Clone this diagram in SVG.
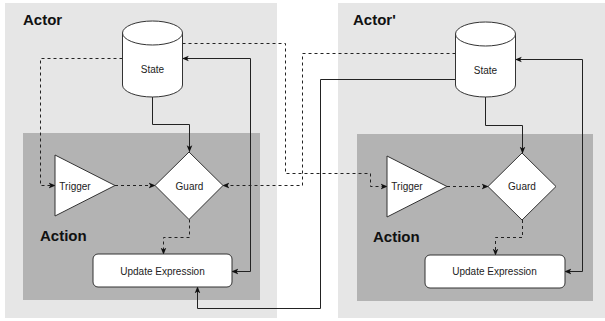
<svg xmlns="http://www.w3.org/2000/svg" width="605" height="321" viewBox="0 0 605 321">
<defs>
<style>
.actor{fill:#e6e6e6;stroke:none}
.action{fill:#b3b3b3;stroke:none}
.shape{fill:#fff;stroke:#333;stroke-width:1}
.title{font-family:"Liberation Sans",Arial,sans-serif;font-size:15px;font-weight:bold;fill:#111}
.lbl{font-family:"Liberation Sans",Arial,sans-serif;font-size:10px;fill:#222;text-anchor:middle}
.c{fill:none;stroke:#222;stroke-width:1}
.d{stroke-dasharray:3 3}
.a{marker-end:url(#arr)}
.b{marker-start:url(#arr);marker-end:url(#arr)}
</style>
<marker id="arr" viewBox="0 0 10 10" refX="9" refY="5" markerWidth="7" markerHeight="7" markerUnits="userSpaceOnUse" orient="auto-start-reverse">
<path d="M0,1 L10,5 L0,9 L2.5,5 z" fill="#111"/>
</marker>
</defs>
<g id="actor-left">
<rect class="actor" x="5" y="3" width="272" height="315"/>
<text class="title" x="23" y="25">Actor</text>
</g>
<g id="actor-right">
<rect class="actor" x="338" y="3" width="267" height="315"/>
<text class="title" x="353" y="25">Actor'</text>
</g>
<g id="action-left">
<rect class="action" x="23" y="133" width="237" height="167"/>
<text class="title" x="40" y="241">Action</text>
</g>
<g id="action-right">
<rect class="action" x="357" y="134" width="236" height="167"/>
<text class="title" x="373" y="242">Action</text>
</g>
<g id="connectors">
<path class="c a" d="M152.5,97 V124.5 H189.5 V151.5"/>
<path class="c d a" d="M115,185.5 H155"/>
<path class="c d a" d="M189.5,219.5 V237.5 H163.5 V254"/>
<path class="c b" d="M232,271.5 H250.5 V58.5 H182.5"/>
<path class="c d a" d="M122.5,58.5 H40.5 V185.5 H55"/>
<path class="c d a" d="M182.5,43.5 H285.5 V173.5 H370.5 V186.5 H387"/>
<path class="c d a" d="M455.5,53.5 H302.5 V185.5 H223"/>
<path class="c a" d="M455.5,79.5 H320.5 V308.5 H197.5 V287"/>
<path class="c a" d="M485.5,97 V125.5 H522.5 V153"/>
<path class="c d a" d="M447,186.5 H488"/>
<path class="c d a" d="M522.5,220 V237.5 H495.5 V255"/>
<path class="c b" d="M565,271.5 H582.5 V59.5 H515.5"/>
</g>
<g id="state-left">
<path class="shape" d="M122.5,33 A30,12 0 0 1 182.5,33 V85 A30,12 0 0 1 122.5,85 Z"/>
<path class="shape" fill="none" d="M122.5,33 A30,12 0 0 0 182.5,33"/>
<text class="lbl" x="152.5" y="73">State</text>
</g>
<g id="trigger-left">
<path class="shape" d="M55,155 L115,185.5 L55,216 Z"/>
<text class="lbl" x="75" y="189.5">Trigger</text>
</g>
<g id="guard-left">
<path class="shape" d="M189,152 L223,185.5 L189,219.5 L155,185.5 Z"/>
<text class="lbl" x="189.5" y="189.5">Guard</text>
</g>
<g id="update-left">
<rect class="shape" x="93" y="254" width="139" height="33" rx="5"/>
<text class="lbl" x="162.5" y="274.5">Update Expression</text>
</g>
<g id="state-right">
<path class="shape" d="M455.5,34 A30,12 0 0 1 515.5,34 V85 A30,12 0 0 1 455.5,85 Z"/>
<path class="shape" fill="none" d="M455.5,34 A30,12 0 0 0 515.5,34"/>
<text class="lbl" x="485.5" y="73.5">State</text>
</g>
<g id="trigger-right">
<path class="shape" d="M387,156 L447,186.5 L387,217 Z"/>
<text class="lbl" x="407" y="190">Trigger</text>
</g>
<g id="guard-right">
<path class="shape" d="M522,153 L556,186.5 L522,220 L488,186.5 Z"/>
<text class="lbl" x="522" y="190">Guard</text>
</g>
<g id="update-right">
<rect class="shape" x="425" y="255" width="140" height="33" rx="5"/>
<text class="lbl" x="494.5" y="275">Update Expression</text>
</g>
</svg>
